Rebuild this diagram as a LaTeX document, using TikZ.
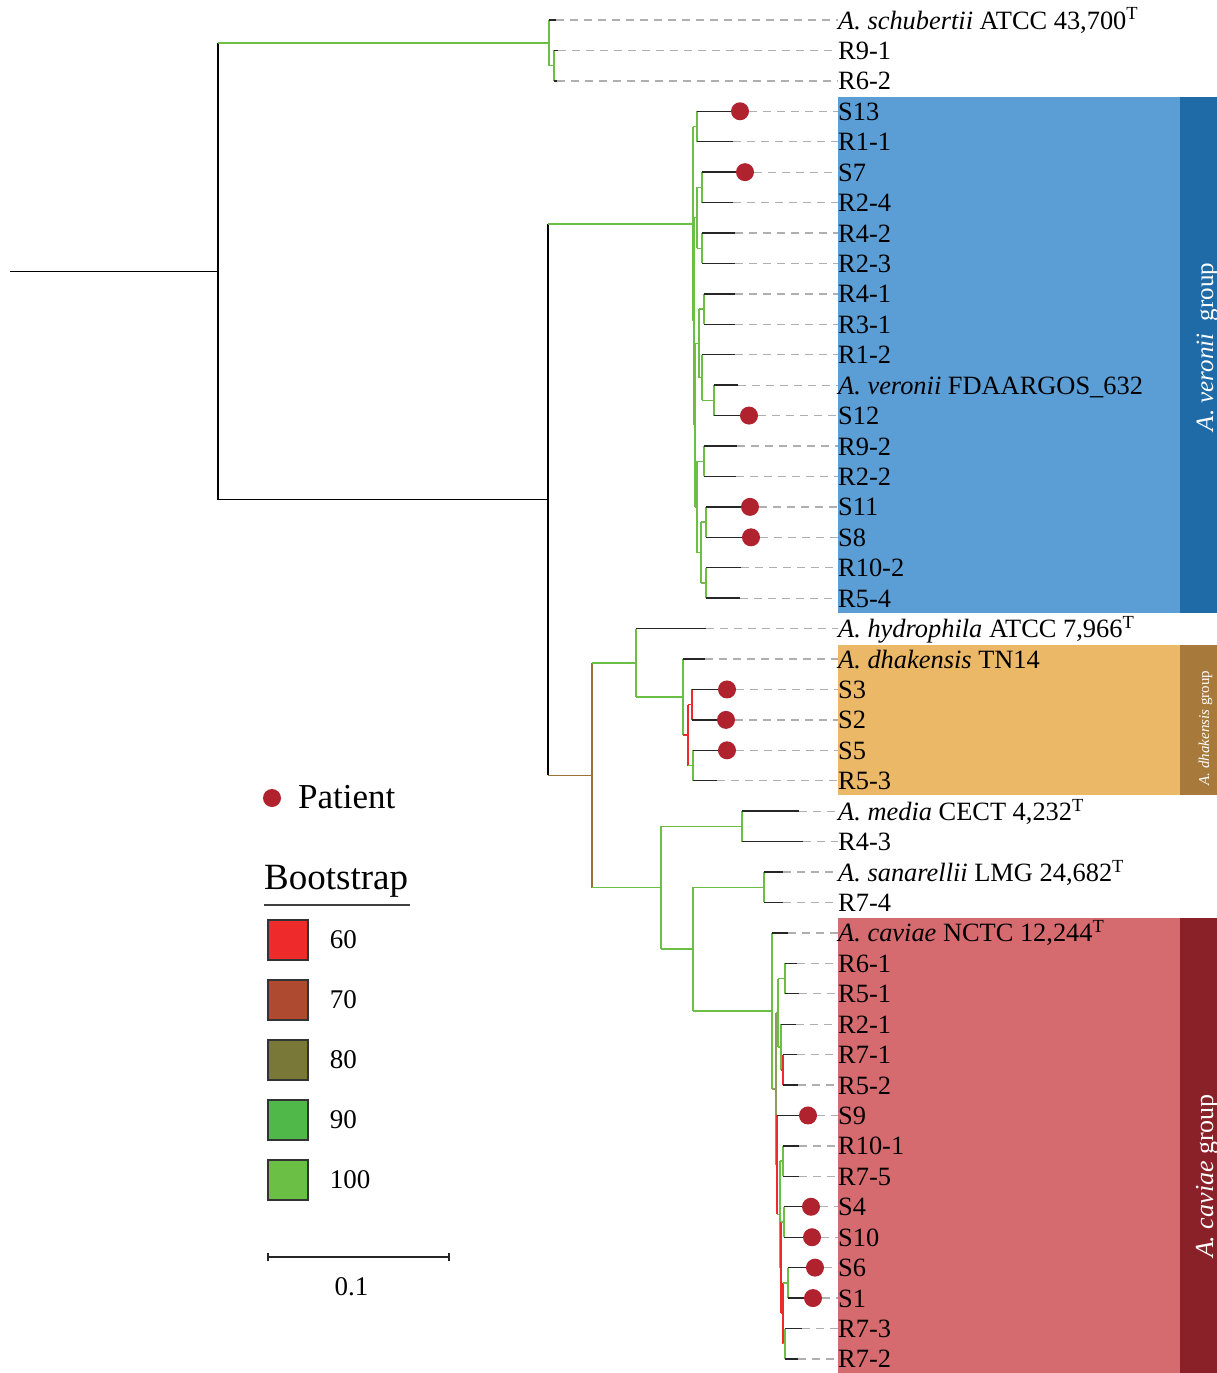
\documentclass[tikz,border=0pt]{standalone}
\usepackage{fontspec}
\setmainfont{Liberation Serif}
\usetikzlibrary{calc,positioning}

\definecolor{bs60}{HTML}{EE2A2A}
\definecolor{bs70}{HTML}{AE4A2F}
\definecolor{bs80}{HTML}{7A7838}
\definecolor{bs90}{HTML}{4FB848}
\definecolor{bs100}{HTML}{6CBF45}
\definecolor{brtree}{HTML}{9C7036}
\definecolor{olvtree}{HTML}{8E9A60}
\definecolor{patred}{HTML}{B0232E}
\definecolor{verlight}{HTML}{5A9ED5}
\definecolor{verdark}{HTML}{1F6BA8}
\definecolor{dhalight}{HTML}{EAB866}
\definecolor{dhadark}{HTML}{A7793A}
\definecolor{cavlight}{HTML}{D66B6F}
\definecolor{cavdark}{HTML}{8A2128}
\definecolor{guidegray}{HTML}{AFAFAF}

\tikzset{
  edge/.style={line width=1.4pt},
  leafedge/.style={edge, draw=black!85},
  guide/.style={line width=1.3pt, guidegray, dash pattern=on 8pt off 6pt},
  leaftip/.style={inner sep=0pt, minimum size=0pt},
  patient/.style={circle, fill=patred, inner sep=0pt, minimum size=18pt},
  leaflab/.style={anchor=base west, inner sep=0pt, font=\fontsize{26.4}{30}\selectfont},
  grouplab/.style={rotate=90, anchor=base, inner sep=0pt, text=white},
  bsbox/.style={draw=black!80, line width=1.5pt, minimum size=40pt, inner sep=0pt},
  bsnum/.style={anchor=west, inner sep=0pt, font=\fontsize{27}{32}\selectfont},
}

% internal node: name, x, top child, bottom child
\newcommand{\inode}[4]{\path let \p1=($(#3)!.5!(#4)$) in coordinate (#1) at (#2pt,\y1);}
% clade: colour, parent, node, top child, bottom child
\newcommand{\clade}[5]{\draw[edge,#1] (#2 |- #3) -- (#3) (#3 |- #4) -- (#3 |- #5);}

\begin{document}
\begin{tikzpicture}[x=1pt,y=-1pt]
    \useasboundingbox (0,0) rectangle (1217,1373);

    % Group boxes
    \fill[verlight] (838,97) rectangle (1180,613);
    \fill[verdark] (1180,97) rectangle (1217,613);
    \fill[dhalight] (838,645) rectangle (1180,795);
    \fill[dhadark] (1180,645) rectangle (1217,795);
    \fill[cavlight] (838,918) rectangle (1180,1373);
    \fill[cavdark] (1180,918) rectangle (1217,1373);
    \node[grouplab, font=\fontsize{25}{30}\selectfont] (gver) at (1213,347) {\textit{A. veronii}~~group};
    \node[grouplab, font=\fontsize{15}{18}\selectfont] (gdha) at (1209,728) {\textit{A. dhakensis} group};
    \node[grouplab, font=\fontsize{26}{30}\selectfont] (gcav) at (1213,1176) {\textit{A. caviae} group};

    % Leaves: row, name, tip x, style, label
    \foreach \i/\nm/\tx/\st/\lab in {
        1/sch/556/leaftip/{\textit{A. schubertii} ATCC 43,700\textsuperscript{T}},
        2/r91/558/leaftip/{R9-1}, 3/r62/557/leaftip/{R6-2},
        4/s13/740/patient/{S13}, 5/r11/733/leaftip/{R1-1},
        6/s7/745/patient/{S7}, 7/r24/733/leaftip/{R2-4},
        8/r42/735/leaftip/{R4-2}, 9/r23/735/leaftip/{R2-3},
        10/r41/735/leaftip/{R4-1}, 11/r31/735/leaftip/{R3-1},
        12/r12/735/leaftip/{R1-2},
        13/aver/738/leaftip/{\textit{A. veronii} FDAARGOS\_632},
        14/s12/749/patient/{S12},
        15/r92/737/leaftip/{R9-2}, 16/r22/736/leaftip/{R2-2},
        17/s11/750/patient/{S11}, 18/s8/751/patient/{S8},
        19/r102/741/leaftip/{R10-2}, 20/r54/740/leaftip/{R5-4},
        21/ahyd/706/leaftip/{\textit{A. hydrophila} ATCC 7,966\textsuperscript{T}},
        22/adha/705/leaftip/{\textit{A. dhakensis} TN14},
        23/s3/727/patient/{S3}, 24/s2/726/patient/{S2},
        25/s5/727/patient/{S5}, 26/r53/717/leaftip/{R5-3},
        27/amed/799/leaftip/{\textit{A. media} CECT 4,232\textsuperscript{T}},
        28/r43/803/leaftip/{R4-3},
        29/asan/783/leaftip/{\textit{A. sanarellii} LMG 24,682\textsuperscript{T}},
        30/r74/783/leaftip/{R7-4},
        31/acav/788/leaftip/{\textit{A. caviae} NCTC 12,244\textsuperscript{T}},
        32/r61/797/leaftip/{R6-1}, 33/r51/799/leaftip/{R5-1},
        34/r21/796/leaftip/{R2-1}, 35/r71/797/leaftip/{R7-1},
        36/r52/798/leaftip/{R5-2}, 37/s9/808/patient/{S9},
        38/r101/799/leaftip/{R10-1}, 39/r75/799/leaftip/{R7-5},
        40/s4/811/patient/{S4}, 41/s10/812/patient/{S10},
        42/s6/815/patient/{S6}, 43/s1/813/patient/{S1},
        44/r73/802/leaftip/{R7-3}, 45/r72/798/leaftip/{R7-2}} {
        \pgfmathsetmacro\ly{20+(\i-1)*30.43}
        \node[\st] (\nm) at (\tx,\ly) {};
        \node[leaflab] (lab-\nm) at (838,\ly+9) {\lab};
        \draw[guide] (\nm) -- (\nm -| lab-\nm.west);
    }

    % Internal nodes, bottom up
    \inode{t1}{554}{r91}{r62}
    \inode{t0}{549}{sch}{t1}
    % A. veronii clade
    \inode{vA}{697}{s13}{r11}
    \inode{vB}{702}{s7}{r24}
    \inode{vC}{702}{r42}{r23}
    \inode{vBC}{697}{vB}{vC}
    \inode{vD}{704}{r41}{r31}
    \inode{vVS}{714}{aver}{s12}
    \inode{vE}{702}{r12}{vVS}
    \inode{vDE}{699}{vD}{vE}
    \inode{vF}{704}{r92}{r22}
    \inode{vG}{706}{s11}{s8}
    \inode{vH}{706}{r102}{r54}
    \inode{vGH}{701}{vG}{vH}
    \inode{vFGH}{697}{vF}{vGH}
    \inode{vY}{695}{vDE}{vFGH}
    \inode{vR}{694}{vBC}{vY}
    \inode{v0}{693}{vA}{vR}
    % A. dhakensis clade
    \inode{d2}{692}{s3}{s2}
    \inode{d3}{693}{s5}{r53}
    \inode{d1}{688}{d2}{d3}
    \inode{dh}{683}{adha}{d1}
    \inode{hy}{636}{ahyd}{dh}
    % A. media, A. sanarellii, A. caviae
    \inode{md}{742}{amed}{r43}
    \inode{sn}{764}{asan}{r74}
    \inode{c4}{785}{r61}{r51}
    \inode{c6}{783}{r71}{r52}
    \inode{c5}{781}{r21}{c6}
    \inode{c2}{778}{c4}{c5}
    \inode{c10}{783}{r101}{r75}
    \inode{c11}{784}{s4}{s10}
    \inode{c12}{788}{s6}{s1}
    \inode{c13}{785}{r73}{r72}
    \inode{c9}{783}{c12}{c13}
    \inode{c8}{781}{c11}{c9}
    \inode{c7}{780}{c10}{c8}
    \inode{c3}{777}{s9}{c7}
    \inode{c1}{776}{c2}{c3}
    \inode{c0}{772}{acav}{c1}
    \inode{sc}{693}{sn}{c0}
    \inode{mc}{661}{md}{sc}
    \inode{lo}{592}{hy}{mc}
    \inode{bt}{548}{v0}{lo}
    \inode{rt}{218}{t0}{bt}
    \coordinate (base) at (10,0);

    % Branches
    \clade{black}{base}{rt}{t0}{bt}
    \clade{bs100}{rt}{t0}{sch}{t1}
    \clade{bs100}{t0}{t1}{r91}{r62}
    \clade{black}{rt}{bt}{v0}{lo}
    \clade{bs100}{bt}{v0}{vA}{vR}
    \clade{bs100}{v0}{vA}{s13}{r11}
    \clade{bs100}{v0}{vR}{vBC}{vY}
    \clade{bs100}{vR}{vBC}{vB}{vC}
    \clade{bs100}{vBC}{vB}{s7}{r24}
    \clade{bs100}{vBC}{vC}{r42}{r23}
    \clade{bs100}{vR}{vY}{vDE}{vFGH}
    \clade{bs100}{vY}{vDE}{vD}{vE}
    \clade{bs100}{vDE}{vD}{r41}{r31}
    \clade{bs100}{vDE}{vE}{r12}{vVS}
    \clade{bs100}{vE}{vVS}{aver}{s12}
    \clade{bs100}{vY}{vFGH}{vF}{vGH}
    \clade{bs100}{vFGH}{vF}{r92}{r22}
    \clade{bs100}{vFGH}{vGH}{vG}{vH}
    \clade{bs100}{vGH}{vG}{s11}{s8}
    \clade{bs100}{vGH}{vH}{r102}{r54}
    \clade{brtree}{bt}{lo}{hy}{mc}
    \clade{bs100}{lo}{hy}{ahyd}{dh}
    \clade{bs100}{hy}{dh}{adha}{d1}
    \clade{bs60}{dh}{d1}{d2}{d3}
    \clade{bs60}{d1}{d2}{s3}{s2}
    \clade{bs100}{d1}{d3}{s5}{r53}
    \clade{bs100}{lo}{mc}{md}{sc}
    \clade{bs100}{mc}{md}{amed}{r43}
    \clade{bs100}{mc}{sc}{sn}{c0}
    \clade{bs100}{sc}{sn}{asan}{r74}
    \clade{bs100}{sc}{c0}{acav}{c1}
    \clade{olvtree}{c0}{c1}{c2}{c3}
    \clade{bs100}{c1}{c2}{c4}{c5}
    \clade{bs100}{c2}{c4}{r61}{r51}
    \clade{bs100}{c2}{c5}{r21}{c6}
    \clade{bs60}{c5}{c6}{r71}{r52}
    \clade{bs60}{c1}{c3}{s9}{c7}
    \clade{bs100}{c3}{c7}{c10}{c8}
    \clade{bs100}{c7}{c10}{r101}{r75}
    \clade{bs60}{c7}{c8}{c11}{c9}
    \clade{bs100}{c8}{c11}{s4}{s10}
    \clade{bs60}{c8}{c9}{c12}{c13}
    \clade{bs100}{c9}{c12}{s6}{s1}
    \clade{bs100}{c9}{c13}{r73}{r72}

    % Leaf branches
    \foreach \nm/\up in {sch/t0, r91/t1, r62/t1, s13/vA, r11/vA, s7/vB, r24/vB,
        r42/vC, r23/vC, r41/vD, r31/vD, r12/vE, aver/vVS, s12/vVS, r92/vF, r22/vF,
        s11/vG, s8/vG, r102/vH, r54/vH, ahyd/hy, adha/dh, s3/d2, s2/d2, s5/d3, r53/d3,
        amed/md, r43/md, asan/sn, r74/sn, acav/c0, r61/c4, r51/c4, r21/c5, r71/c6, r52/c6,
        s9/c3, r101/c10, r75/c10, s4/c11, s10/c11, s6/c12, s1/c12, r73/c13, r72/c13}
        \draw[leafedge] (\up |- \nm) -- (\nm);

    % Legend
    \node[patient] (legdot) at (272,798) {};
    \node[anchor=base west, inner sep=0pt, font=\fontsize{35}{40}\selectfont] (legpat) at (298,808) {Patient};
    \node[anchor=base west, inner sep=0pt, font=\fontsize{37}{42}\selectfont] (legbs) at (264,889) {Bootstrap};
    \draw[line width=2pt, black!75] ([yshift=-8pt]legbs.south west) -- ([xshift=2pt,yshift=-8pt]legbs.south east);
    \foreach \k/\v/\c in {0/60/bs60, 1/70/bs70, 2/80/bs80, 3/90/bs90, 4/100/bs100} {
        \node[bsbox, fill=\c] (box\v) at (288,940+60*\k) {};
        \node[bsnum, right=21pt of box\v] (num\v) {\v};
    }

    % Scale bar
    \coordinate (sb0) at (268,1257);
    \coordinate (sb1) at (449,1257);
    \draw[line width=1.5pt, black!85] (sb0) -- (sb1);
    \draw[line width=1.5pt, black!85] ([yshift=-4pt]sb0) -- ([yshift=4pt]sb0);
    \draw[line width=1.5pt, black!85] ([yshift=-4pt]sb1) -- ([yshift=4pt]sb1);
    \node[anchor=base, inner sep=0pt, font=\fontsize{27}{32}\selectfont] (sblab) at ($(sb0)!.5!(sb1)+(-7,38)$) {0.1};
\end{tikzpicture}
\end{document}
